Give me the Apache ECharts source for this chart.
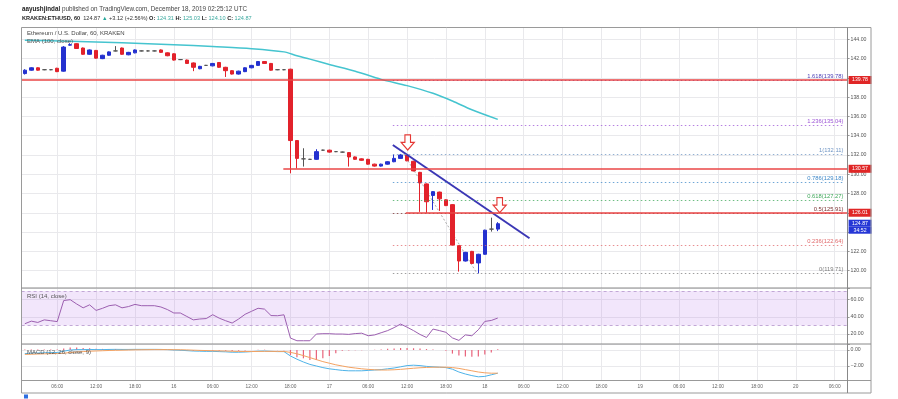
<!DOCTYPE html>
<html><head><meta charset="utf-8">
<script src="https://cdn.jsdelivr.net/npm/echarts@6/dist/echarts.min.js"></script>
<style>html,body{margin:0;padding:0;background:#fff}#c{width:898px;height:399px}</style>
</head><body><div id="c"></div>
<script>
// ---------- DATA (hours counted from Dec 15 2019 00:00 UTC, 1h candles) ----------
const hours = Array.from({length: 74}, (_, i) => i + 1);
const opens = [
140.45,140.80,141.05,140.85,140.85,141.00,140.70,143.40,143.55,143.10,
142.45,142.85,142.00,142.35,142.80,143.10,142.40,142.60,142.80,142.80,
142.80,142.90,142.60,142.50,141.90,141.85,141.55,140.95,141.30,141.25,
141.60,141.10,140.75,140.40,140.65,141.05,141.30,141.70,141.50,140.85,
140.85,140.90,133.50,131.60,131.55,131.55,132.50,132.50,132.35,132.30,
132.25,131.80,131.60,131.55,131.05,130.85,131.05,131.30,131.65,132.00,
131.35,130.20,129.00,127.80,128.15,127.35,126.85,122.60,121.00,122.00,
120.80,121.70,124.31,124.31];
const closes = [
140.80,141.05,140.80,140.85,140.85,140.65,143.20,143.45,143.05,142.45,
142.90,142.05,142.35,142.70,142.80,142.45,142.65,142.90,142.80,142.80,
142.80,142.65,142.30,141.85,141.90,141.50,141.10,141.20,141.30,141.50,
141.10,140.75,140.40,140.70,141.05,141.30,141.70,141.50,140.80,140.85,
140.85,133.50,131.65,131.60,131.55,132.35,132.50,132.30,132.35,132.30,
131.80,131.55,131.45,131.05,130.85,131.05,131.30,131.65,132.00,131.40,
130.35,129.10,127.15,128.20,127.45,126.75,122.65,121.00,121.90,120.75,
121.70,124.20,124.31,124.87];
const lows = [
140.35,140.75,140.75,140.80,140.80,140.60,140.65,143.35,143.00,142.40,
142.40,142.00,141.95,142.30,142.75,142.40,142.35,142.55,142.75,142.75,
142.75,142.60,142.25,141.80,141.85,141.45,140.70,140.90,141.25,141.20,
141.05,140.10,140.35,140.35,140.60,141.00,141.25,141.45,140.75,140.80,
140.80,130.10,130.60,130.80,131.50,131.50,132.45,132.25,132.30,132.25,
130.80,131.50,131.40,131.00,130.80,130.80,131.00,131.25,131.60,131.35,
130.30,126.10,126.00,126.30,126.20,126.70,122.60,119.90,120.95,120.70,
119.71,121.65,124.05,124.10];
const highs = [
140.90,141.10,141.10,140.90,140.90,141.05,143.30,143.60,143.60,143.15,
142.95,142.90,142.40,142.75,143.30,143.15,142.70,142.95,142.85,142.85,
142.85,142.95,142.65,142.55,141.95,141.90,141.60,141.25,141.35,141.55,
141.65,141.15,140.80,140.75,141.10,141.35,141.75,141.75,141.55,140.90,
140.90,140.95,133.55,132.70,131.60,132.60,132.55,132.55,132.40,132.35,
132.30,131.85,131.65,131.60,131.10,131.10,131.35,132.05,132.11,132.11,
131.40,130.25,129.05,128.25,128.20,127.40,126.90,122.65,121.95,122.05,
121.75,124.25,125.50,125.03];

const emaHours  = [1, 8, 16, 24, 30, 36, 41, 43, 45, 48, 52, 56, 60, 64, 67, 70, 74];
const emaValues = [143.90,143.80,143.65,143.45,143.25,143.03,142.70,142.30,141.95,141.40,140.70,139.85,139.20,138.40,137.60,136.70,135.70];

const rsiValues = [
32,35,33.5,36.5,35.5,34.5,59,60,55,50.5,
54,47.5,50,53,54,50.5,52,54.5,53,53,
53,51.5,48.5,44.5,44.5,40.5,36.5,37.5,38,42.5,
38.5,35.5,32.8,37.5,43,46.5,50,49,41.5,41.3,
42.4,15.3,12.2,12.2,12.2,20,20.4,20.4,20,20,
19.6,20.5,21,18,19,21.5,24,27.5,31.6,28,
24,19.5,16,25.8,24,22,15.5,12.6,19,18,
25,34.7,35.8,38.6];
const macdValues = [
-0.45,-0.40,-0.38,-0.35,-0.33,-0.32,-0.15,0.00,0.05,0.05,
0.07,0.05,0.05,0.07,0.08,0.07,0.07,0.08,0.08,0.08,
0.08,0.07,0.05,0.00,-0.03,-0.08,-0.13,-0.15,-0.17,-0.17,
-0.20,-0.23,-0.28,-0.28,-0.25,-0.20,-0.15,-0.13,-0.17,-0.20,
-0.20,-0.75,-1.15,-1.50,-1.80,-2.00,-2.20,-2.35,-2.45,-2.55,
-2.60,-2.60,-2.60,-2.55,-2.50,-2.45,-2.35,-2.25,-2.10,-1.95,
-1.90,-1.95,-2.05,-2.10,-2.15,-2.20,-2.40,-2.75,-3.00,-3.20,
-3.35,-3.30,-3.10,-2.90];
const signalValues = [
-0.55,-0.53,-0.50,-0.48,-0.46,-0.44,-0.40,-0.32,-0.25,-0.20,
-0.15,-0.12,-0.09,-0.06,-0.04,-0.02,0.00,0.02,0.03,0.04,
0.05,0.05,0.05,0.04,0.03,0.01,-0.02,-0.05,-0.07,-0.09,
-0.11,-0.13,-0.16,-0.18,-0.19,-0.19,-0.18,-0.17,-0.17,-0.18,
-0.18,-0.30,-0.47,-0.70,-0.95,-1.20,-1.45,-1.65,-1.85,-2.00,
-2.15,-2.25,-2.35,-2.42,-2.47,-2.50,-2.50,-2.47,-2.42,-2.35,
-2.28,-2.22,-2.18,-2.15,-2.15,-2.15,-2.20,-2.30,-2.45,-2.60,
-2.75,-2.85,-2.90,-2.90];
const histValues = [
0.05,0.07,0.06,0.07,0.07,0.06,0.20,0.30,0.30,0.25,
0.22,0.17,0.14,0.13,0.12,0.09,0.07,0.06,0.05,0.04,
0.03,0.02,0.00,-0.04,-0.06,-0.09,-0.11,-0.10,-0.10,-0.08,
-0.09,-0.10,-0.12,-0.10,-0.06,-0.01,0.03,0.04,0.00,-0.02,
-0.02,-0.63,-0.92,-1.04,-1.25,-1.25,-1.04,-0.75,-0.42,-0.10,
-0.05,-0.03,-0.02,0.00,0.03,0.05,0.15,0.20,0.25,0.25,
0.22,0.20,0.12,0.05,0.00,-0.10,-0.45,-0.70,-0.80,-0.85,
-0.80,-0.55,-0.30,0.10];

const fibRatios = ['1.618','1.236','1','0.786','0.618','0.5','0.236','0'];
const fibPrices = [139.78,135.04,132.11,129.18,127.27,125.91,122.64,119.71];
const fibStartHour = 57.8, fibEndHour = 127.5;
const redLevels = [139.78, 130.57, 126.01];
const redLevelStartHours = [0.5, 40.9, 59.8];
const lastPrice = 124.87, countdown = '34:52';
const trendLine = [[57.8, 133.04], [78.9, 123.36]];
const fibDiagonal = [[59.5, 132.11], [70.8, 119.71]];
const arrowPoints = [[60.1, 133.3], [74.3, 126.8]];
const rsiBand = [30, 70];

const timeTickHours  = [6,12,18,24,30,36,42,48,54,60,66,72,78,84,90,96,102,108,114,120,126];
const timeTickLabels = ['06:00','12:00','18:00','16','06:00','12:00','18:00','17','06:00','12:00','18:00','18','06:00','12:00','18:00','19','06:00','12:00','18:00','20','06:00'];
const hiddenPriceTicks = [140, 126, 124];

// ---------- STYLE ----------
const F = 'Liberation Sans, Arial, sans-serif';
const UP = '#2431cf', DOWN = '#e2222b', RED = '#ea4646', BLUE_TAG = '#2536d6';
const GRID = '#e9e9ec', FRAME = '#9a9a9a';
const fibColors = ['#4b3fb5','#9d55d6','#6f95c4','#3f88c8','#3fa75a','#7a2f2f','#e06a6c','#7d7d7d'];

const candleData = hours.map((h, i) => [h, opens[i], closes[i], lows[i], highs[i]]);
const emaData = emaHours.map((h, i) => [h, emaValues[i]]);
const rsiData = hours.map((h, i) => [h, rsiValues[i]]);
const macdData = hours.map((h, i) => [h, macdValues[i]]);
const sigData = hours.map((h, i) => [h, signalValues[i]]);
const histData = hours.map((h, i) => [h, histValues[i]]);

function xAxisFor(idx, showLabels) {
  return {
    type: 'value', gridIndex: idx, min: 0.5, max: 128, minInterval: 6, maxInterval: 6,
    axisLine: {show: false}, axisTick: {show: false},
    splitLine: {show: true, lineStyle: {color: GRID, width: 1}},
    axisLabel: {show: showLabels, fontSize: 4.8, color: '#666', fontFamily: F, margin: 4,
      formatter: v => { const k = timeTickHours.indexOf(Math.round(v)); return (k >= 0 && Math.abs(v - Math.round(v)) < 1e-6) ? timeTickLabels[k] : ''; }}
  };
}
function yAxisFor(idx, min, max, step, fmt) {
  return {
    type: 'value', gridIndex: idx, position: 'right', min: min, max: max, minInterval: step, maxInterval: step,
    axisLine: {show: false}, axisTick: {show: true, length: 2, lineStyle: {color: '#999'}},
    splitLine: {show: true, lineStyle: {color: GRID, width: 1}},
    axisLabel: {fontSize: 5.2, color: '#555', fontFamily: F, margin: 3, formatter: fmt}
  };
}
const isMult = (v, s) => Math.abs(v / s - Math.round(v / s)) < 1e-6;

const markLines = [];
// fib retracement levels
fibRatios.forEach((r, i) => {
  markLines.push([
    {coord: [fibStartHour, fibPrices[i]], lineStyle: {color: fibColors[i], type: [1.5, 2.5], width: 1, opacity: 0.75},
     label: {show: true, position: 'insideEndTop', distance: 1, formatter: r + '(' + fibPrices[i].toFixed(2) + ')',
       color: fibColors[i], opacity: 1, fontSize: 5.8, fontFamily: F}},
    {coord: [fibEndHour, fibPrices[i]]}
  ]);
});
// red horizontal levels with price tags
redLevels.forEach((p, i) => {
  markLines.push([
    {coord: [redLevelStartHours[i], p], lineStyle: {color: RED, width: 1.5, type: 'solid'},
     label: {show: true, position: 'end', distance: 1, formatter: p.toFixed(2), color: '#fff', backgroundColor: '#e02626',
       fontSize: 5.2, fontFamily: F, padding: [1.5, 3.5]}},
    {coord: [128, p]}
  ]);
});
// last price tag + countdown
markLines.push([
  {coord: [127, lastPrice], lineStyle: {color: 'rgba(0,0,0,0)', width: 1},
   label: {show: true, position: 'end', distance: 1, offset: [0, 3],
    formatter: '{p|' + lastPrice.toFixed(2) + '}\n{t|' + countdown + '}',
    rich: {p: {backgroundColor: BLUE_TAG, color: '#fff', fontSize: 5.2, fontFamily: F, padding: [1, 3.5], lineHeight: 7},
           t: {backgroundColor: BLUE_TAG, color: '#fff', fontSize: 5.2, fontFamily: F, padding: [1, 5], lineHeight: 7}}}},
  {coord: [128, lastPrice]}
]);

const arrowPath = 'path://M4,0 L10,0 L10,8 L14,8 L7,16 L0,8 L4,8 Z';

const option = {
  animation: false,
  backgroundColor: '#fff',
  title: [
    {left: 22, top: 6, padding: 0, text: '{b|aayushjindal} published on TradingView.com, December 18, 2019 02:25:12 UTC',
     textStyle: {fontSize: 6.3, color: '#444', fontWeight: 'normal', fontFamily: F, rich: {b: {fontSize: 6.3, fontWeight: 'bold', color: '#222', fontFamily: F}}}},
    {left: 22, top: 15, padding: 0, text: '{b|KRAKEN:ETHUSD, 60}  124.87 {g|▲} +3.12 (+2.56%) {b|O:} {v|124.31} {b|H:} {v|125.03} {b|L:} {v|124.10} {b|C:} {v|124.87}',
     textStyle: {fontSize: 5.6, color: '#333', fontWeight: 'normal', fontFamily: F,
       rich: {b: {fontSize: 5.6, fontWeight: 'bold', color: '#222', fontFamily: F}, v: {fontSize: 5.6, color: '#3aa99f', fontFamily: F}, g: {fontSize: 5.6, color: '#26a69a', fontFamily: F}}}},
    {left: 27, top: 30.5, padding: 0, text: 'Ethereum / U.S. Dollar, 60, KRAKEN', textStyle: {fontSize: 6, color: '#444', fontWeight: 'normal', fontFamily: F}},
    {left: 27, top: 38, padding: 0, text: 'EMA (100, close)', textStyle: {fontSize: 6, color: '#555', fontWeight: 'normal', fontFamily: F}},
    {left: 27, top: 293, padding: 0, text: 'RSI (14, close)', textStyle: {fontSize: 6, color: '#555', fontWeight: 'normal', fontFamily: F}},
    {left: 27, top: 349, padding: 0, text: 'MACD (12, 26, close, 9)', textStyle: {fontSize: 6, color: '#555', fontWeight: 'normal', fontFamily: F}}
  ],
  grid: [
    {left: 21.6, top: 27.5, width: 826, height: 260.5},
    {left: 21.6, top: 288, width: 826, height: 56},
    {left: 21.6, top: 344, width: 826, height: 36}
  ],
  xAxis: [xAxisFor(0, false), xAxisFor(1, false), xAxisFor(2, true)],
  yAxis: [
    yAxisFor(0, 118.2, 145.23, 2, v => { const r = Math.round(v); if (!isMult(v, 2) || hiddenPriceTicks.indexOf(r) >= 0) return ''; return r.toFixed(2); }),
    yAxisFor(1, 8.4, 73.6, 20, v => isMult(v, 20) ? Math.round(v).toFixed(2) : ''),
    yAxisFor(2, -3.75, 0.75, 2, v => isMult(v, 2) ? Math.round(v).toFixed(2).replace('-', '\u2212') : '')
  ],
  series: [
    {
      type: 'candlestick', name: 'ETHUSD', xAxisIndex: 0, yAxisIndex: 0, data: candleData,
      encode: {x: 0, y: [1, 2, 3, 4]}, barWidth: 4,
      itemStyle: {color: UP, color0: DOWN, borderColor: UP, borderColor0: DOWN, borderColorDoji: '#555', borderWidth: 1},
      markLine: {silent: true, symbol: ['none', 'none'], animation: false, label: {show: false}, data: markLines},
      markPoint: {silent: true, symbol: arrowPath, symbolSize: [13, 15], symbolKeepAspect: false, animation: false,
        itemStyle: {color: '#fff', borderColor: '#e53935', borderWidth: 1.2}, label: {show: false},
        data: arrowPoints.map(c => ({coord: c}))}
    },
    {type: 'line', name: 'EMA', xAxisIndex: 0, yAxisIndex: 0, data: emaData, showSymbol: false, symbol: 'none', smooth: 0.3,
     lineStyle: {color: '#45c4cf', width: 1.5}, z: 3},
    {type: 'line', name: 'Trend', xAxisIndex: 0, yAxisIndex: 0, data: trendLine, symbol: 'none',
     lineStyle: {color: '#3b37b5', width: 2}, z: 4},
    {type: 'line', name: 'FibDiag', xAxisIndex: 0, yAxisIndex: 0, data: fibDiagonal, symbol: 'none',
     lineStyle: {color: '#aaa', width: 1, type: [2, 2]}, z: 1},
    {type: 'line', name: 'RSI', xAxisIndex: 1, yAxisIndex: 1, data: rsiData, symbol: 'none',
     lineStyle: {color: '#9c5fb0', width: 1},
     markArea: {silent: true, itemStyle: {color: 'rgba(190,130,235,0.2)'}, data: [[{yAxis: rsiBand[0]}, {yAxis: rsiBand[1]}]]},
     markLine: {silent: true, symbol: ['none', 'none'], label: {show: false}, lineStyle: {color: '#c2a8d6', type: [3, 3], width: 1},
       data: [{yAxis: rsiBand[1]}, {yAxis: rsiBand[0]}]}},
    {type: 'bar', name: 'Hist', xAxisIndex: 2, yAxisIndex: 2, data: histData, barWidth: 1.2, itemStyle: {color: '#e8627a'}},
    {type: 'line', name: 'MACD', xAxisIndex: 2, yAxisIndex: 2, data: macdData, symbol: 'none', lineStyle: {color: '#4fb3e8', width: 1}},
    {type: 'line', name: 'Signal', xAxisIndex: 2, yAxisIndex: 2, data: sigData, symbol: 'none', lineStyle: {color: '#f4a261', width: 1}}
  ],
  graphic: [
    {type: 'rect', shape: {x: 21.5, y: 27.5, width: 849.5, height: 365.5}, style: {fill: 'none', stroke: FRAME, lineWidth: 1}, silent: true, z: 50},
    {type: 'line', shape: {x1: 21.5, y1: 288, x2: 871, y2: 288}, style: {stroke: '#888', lineWidth: 1}, silent: true, z: 50},
    {type: 'line', shape: {x1: 21.5, y1: 344, x2: 871, y2: 344}, style: {stroke: '#888', lineWidth: 1}, silent: true, z: 50},
    {type: 'line', shape: {x1: 21.5, y1: 380.5, x2: 871, y2: 380.5}, style: {stroke: '#999', lineWidth: 1}, silent: true, z: 50},
    {type: 'line', shape: {x1: 847.5, y1: 27.5, x2: 847.5, y2: 393}, style: {stroke: '#888', lineWidth: 1}, silent: true, z: 50},
    {type: 'rect', shape: {x: 24, y: 394.5, width: 4, height: 4}, style: {fill: '#2f6fe0'}, silent: true, z: 50}
  ]
};
const chart = echarts.init(document.getElementById('c'), null, {renderer: 'canvas', width: 898, height: 399});
chart.setOption(option);
</script>
</body></html>
